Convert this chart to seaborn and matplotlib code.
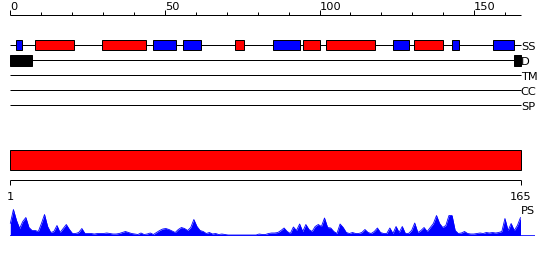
import matplotlib
matplotlib.use("Agg")
import matplotlib.pyplot as plt
import seaborn as sns
import numpy as np
import pandas as pd

# ---------------- data ----------------
seq_length = 165
ruler_major = [0, 50, 100, 150]
ruler_minor = [0, 10, 20, 30, 40, 50, 60, 70, 80, 90, 100, 110, 120, 130, 140, 150, 160]
track_names = ["SS", "D", "TM", "CC", "SP"]

helix_starts = [7.9, 29.8, 72.8, 94.8, 102.0, 130.7]
helix_ends = [20.6, 44.0, 75.7, 100.1, 117.9, 139.8]
strand_starts = [1.9, 46.0, 56.0, 84.9, 123.9, 143.0, 156.0]
strand_ends = [3.9, 53.7, 61.8, 93.8, 128.8, 145.1, 162.8]
disorder_starts = [0.0, 162.8]
disorder_ends = [6.9, 165.0]

domain_start = 1
domain_end = 165
bottom_ticks = [1, 165]

ps_values = [
    12, 26, 15, 7, 14, 18, 8, 5, 5, 4,
    12, 21, 9, 3, 4, 10, 3, 7, 11, 6,
    2, 2, 3, 7, 2, 2, 2, 1.5, 2, 2,
    2, 2.5, 2, 1.5, 1.5, 2, 3, 4, 3, 2,
    1.5, 1, 2.5, 1, 1.5, 2.5, 1, 3, 5, 6.5,
    7, 6, 4.5, 3, 6, 8, 7, 5, 8, 16,
    9, 5, 4, 2, 3, 1.5, 2, 1, 1.5, 1,
    0.5, 0.5, 0.5, 0.5, 0.5, 0.5, 0.5, 0.5, 0.5, 0.5,
    1.5, 1, 1, 2, 2.5, 2.5, 3, 5, 7.5, 4,
    2, 8.5, 5, 11.5, 4, 11, 6, 4, 9, 11,
    9, 17.5, 8, 7.5, 4, 2, 11.5, 8, 3, 2,
    3, 2, 2, 3, 6, 3, 2, 4, 7.5, 3,
    2, 2, 7.5, 2, 9, 3, 9, 2, 2, 5,
    12.5, 3, 5, 8, 4, 8, 12, 20, 12, 8,
    10, 20, 20, 5, 2, 2.5, 4, 2, 1.5, 1.5,
    2, 2.5, 2, 3, 2.5, 3, 2.5, 3, 4, 17,
    5, 12, 5, 10, 18,
]
residues = list(range(1, len(ps_values) + 1))

# ---------------- style ----------------
sns.set_style("white")
plt.rcParams["font.family"] = ["DejaVu Sans"]

W, H, DPI = 550, 260, 100
PX = 72.0 / DPI  # one pixel in points
FS = 8.2

fig = plt.figure(figsize=(W / DPI, H / DPI), dpi=DPI)

# top panel: x in sequence positions (0..165), y in pixel rows
x0_px, scale_top = 10.3, 510.2 / 165
ax = fig.add_axes([0, 0, 1, 1])
ax.set_xlim(-x0_px / scale_top, (W - x0_px) / scale_top)
ax.set_ylim(H, 0)
ax.axis("off")
ax.patch.set_alpha(0)

ruler_y = 15
ax.hlines(ruler_y, 0, seq_length, color="black", lw=PX)
for t in ruler_minor:
    top = 10.3 if t in ruler_major else 12
    ax.vlines(t, top, ruler_y, color="black", lw=PX)
for t in ruler_major:
    ax.text(t, 10.3, str(t), ha="left", va="baseline", fontsize=FS, color="black")

row_y = {"SS": 45, "D": 60.3, "TM": 75.3, "CC": 90.3, "SP": 105.3}
for name in track_names:
    y = row_y[name]
    ax.hlines(y, 0, seq_length, color="black", lw=PX, zorder=1)
    ax.text(seq_length + 0.1, y + 4.8, name, ha="left", va="baseline",
            fontsize=FS, color="black")

h_ss = 10.3
ax.barh(row_y["SS"], np.array(helix_ends) - np.array(helix_starts), left=helix_starts,
        height=h_ss, color="#ff0000", edgecolor="black", linewidth=PX, zorder=3)
ax.barh(row_y["SS"], np.array(strand_ends) - np.array(strand_starts), left=strand_starts,
        height=h_ss, color="#0000ff", edgecolor="black", linewidth=PX, zorder=3)
ax.barh(row_y["D"], np.array(disorder_ends) - np.array(disorder_starts), left=disorder_starts,
        height=10.5, color="black", edgecolor="black", linewidth=PX, zorder=3)

# bottom panel: x in residues (1..165)
scale_bot = 510.2 / 164
xlim_bot = (1 - x0_px / scale_bot, 1 + (W - x0_px) / scale_bot)
axb = fig.add_axes([0, 0, 1, 1])
axb.set_xlim(*xlim_bot)
axb.set_ylim(H, 0)
axb.axis("off")
axb.patch.set_alpha(0)

axb.barh(160.3, domain_end - domain_start, left=domain_start, height=20,
         color="#ff0000", edgecolor="black", linewidth=PX, zorder=3)
ruler2_y = 180.3
axb.hlines(ruler2_y, domain_start, domain_end, color="black", lw=PX)
for t in bottom_ticks:
    axb.vlines(t, ruler2_y, 185, color="black", lw=PX)
    axb.text(t, 200, str(t), ha="center", va="baseline", fontsize=FS, color="black")
axb.text(165.0, 214, "PS", ha="left", va="baseline", fontsize=FS, color="black")

# profile
base_px = 235.5
axp = fig.add_axes([0, (H - base_px) / H, 1, 30 / H])
axp.set_xlim(*xlim_bot)
axp.set_ylim(0, 30)
axp.axis("off")
axp.patch.set_alpha(0)
df = pd.DataFrame({"res": residues, "ps": ps_values})
axp.fill_between(df["res"], 0, df["ps"], color="#0000ff", lw=0)
sns.lineplot(data=df, x="res", y="ps", ax=axp, color="#0000ff", lw=0.6)
axp.hlines(0, 1, 169.7, color="#0000ff", lw=1.6 * PX)

fig.savefig("out.png", dpi=DPI)
